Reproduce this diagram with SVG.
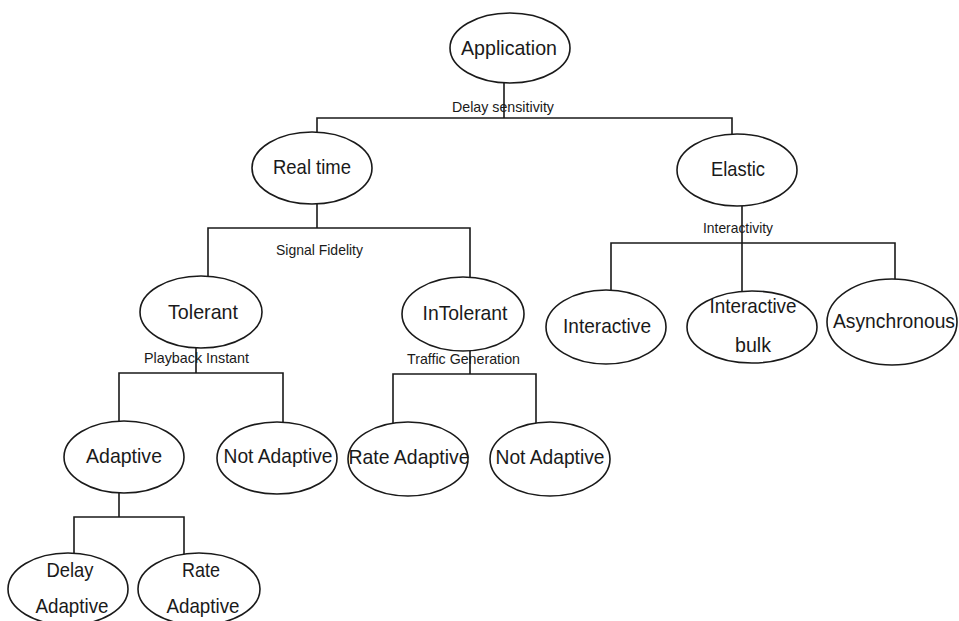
<svg xmlns="http://www.w3.org/2000/svg" width="959" height="621" viewBox="0 0 959 621">
  <style>
    .node ellipse { fill: #ffffff; stroke: #1a1a1a; stroke-width: 1.6; }
    .node text { font-family: "Liberation Sans", Arial, sans-serif; font-size: 21px; fill: #1a1a1a; text-anchor: middle; }
    .edges path { fill: none; stroke: #1a1a1a; stroke-width: 1.6; }
    .lbl { font-family: "Liberation Sans", Arial, sans-serif; font-size: 15px; fill: #1a1a1a; }
  </style>
  <rect width="959" height="621" fill="#ffffff"/>

  <!-- tree connectors -->
  <g class="edges">
    <path d="M504 83 V118 M317 132 V118 H732 V135"/>
    <path d="M317 204 V228 M208 277 V228 H470 V277"/>
    <path d="M742 206 V292 M611 291 V243 H895 V280"/>
    <path d="M196 348 V373 M119 421 V373 H283 V423"/>
    <path d="M470 351 V374 M393 423 V374 H536 V423"/>
    <path d="M119 493 V517 M74 555 V517 H184 V555"/>
  </g>

  <!-- branch criteria -->
  <g id="labels">
    <text class="lbl" x="452" y="112" textLength="102" lengthAdjust="spacingAndGlyphs">Delay sensitivity</text>
    <text class="lbl" x="276" y="255" textLength="87" lengthAdjust="spacingAndGlyphs">Signal Fidelity</text>
    <text class="lbl" x="703" y="233" textLength="70" lengthAdjust="spacingAndGlyphs">Interactivity</text>
    <text class="lbl" x="144" y="363" textLength="105" lengthAdjust="spacingAndGlyphs">Playback Instant</text>
    <text class="lbl" x="407" y="364" textLength="113" lengthAdjust="spacingAndGlyphs">Traffic Generation</text>
  </g>

  <g id="application" class="node">
    <ellipse cx="510" cy="48" rx="60" ry="35"/>
    <text x="509" y="55" textLength="96" lengthAdjust="spacingAndGlyphs">Application</text>
  </g>
  <g id="realtime" class="node">
    <ellipse cx="312" cy="168" rx="60" ry="36"/>
    <text x="312" y="174" textLength="78" lengthAdjust="spacingAndGlyphs">Real time</text>
  </g>
  <g id="elastic" class="node">
    <ellipse cx="737" cy="170" rx="60" ry="36"/>
    <text x="738" y="176" textLength="54" lengthAdjust="spacingAndGlyphs">Elastic</text>
  </g>
  <g id="tolerant" class="node">
    <ellipse cx="201" cy="312" rx="61" ry="36"/>
    <text x="203" y="319" textLength="70" lengthAdjust="spacingAndGlyphs">Tolerant</text>
  </g>
  <g id="intolerant" class="node">
    <ellipse cx="463" cy="314" rx="61" ry="37"/>
    <text x="465" y="320" textLength="85" lengthAdjust="spacingAndGlyphs">InTolerant</text>
  </g>
  <g id="interactive" class="node">
    <ellipse cx="606" cy="327" rx="60" ry="37"/>
    <text x="607" y="333" textLength="88" lengthAdjust="spacingAndGlyphs">Interactive</text>
  </g>
  <g id="interactive-bulk" class="node">
    <ellipse cx="752" cy="327" rx="65" ry="36"/>
    <text x="753" y="313" textLength="87" lengthAdjust="spacingAndGlyphs">Interactive</text>
    <text x="753" y="352" textLength="36" lengthAdjust="spacingAndGlyphs">bulk</text>
  </g>
  <g id="asynchronous" class="node">
    <ellipse cx="892" cy="322" rx="65" ry="43"/>
    <text x="894" y="328" textLength="122" lengthAdjust="spacingAndGlyphs">Asynchronous</text>
  </g>
  <g id="adaptive" class="node">
    <ellipse cx="124" cy="457" rx="60" ry="36"/>
    <text x="124" y="463" textLength="76" lengthAdjust="spacingAndGlyphs">Adaptive</text>
  </g>
  <g id="not-adaptive-tolerant" class="node">
    <ellipse cx="277" cy="458" rx="60" ry="36"/>
    <text x="278" y="463" textLength="109" lengthAdjust="spacingAndGlyphs">Not Adaptive</text>
  </g>
  <g id="rate-adaptive-intolerant" class="node">
    <ellipse cx="408" cy="459" rx="60" ry="37"/>
    <text x="409" y="464" textLength="121" lengthAdjust="spacingAndGlyphs">Rate Adaptive</text>
  </g>
  <g id="not-adaptive-intolerant" class="node">
    <ellipse cx="550" cy="459" rx="60" ry="37"/>
    <text x="550" y="464" textLength="109" lengthAdjust="spacingAndGlyphs">Not Adaptive</text>
  </g>
  <g id="delay-adaptive" class="node">
    <ellipse cx="68" cy="589" rx="60" ry="36"/>
    <text x="70" y="577" textLength="47" lengthAdjust="spacingAndGlyphs">Delay</text>
    <text x="72" y="613" textLength="73" lengthAdjust="spacingAndGlyphs">Adaptive</text>
  </g>
  <g id="rate-adaptive" class="node">
    <ellipse cx="199" cy="589" rx="61" ry="36"/>
    <text x="201" y="577" textLength="38" lengthAdjust="spacingAndGlyphs">Rate</text>
    <text x="203" y="613" textLength="73" lengthAdjust="spacingAndGlyphs">Adaptive</text>
  </g>
</svg>
